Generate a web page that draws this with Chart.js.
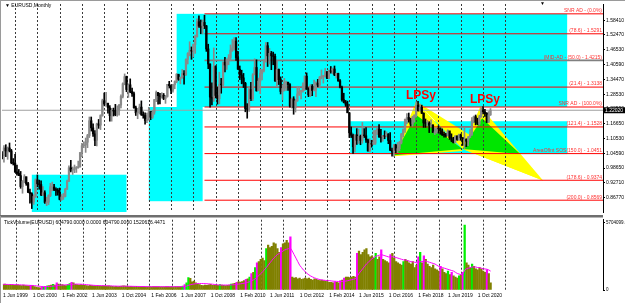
<!DOCTYPE html>
<html lang="en">
<head>
<meta charset="UTF-8">
<title>EURUSD,Monthly</title>
<script src="https://cdn.jsdelivr.net/npm/chart.js"></script>
<style>
  html, body { margin: 0; padding: 0; background: #fff; }
  #wrap { position: relative; width: 625px; height: 303px; overflow: hidden; }
  #priceBox { position: absolute; left: 0; top: 0; width: 625px; height: 216px; }
  #volBox { position: absolute; left: 0; top: 216px; width: 625px; height: 87px; }
</style>
</head>
<body>
<div id="wrap">
  <div id="priceBox"><canvas id="priceChart"></canvas></div>
  <div id="volBox"><canvas id="volumeChart"></canvas></div>
</div>
<script>
// EURUSD monthly, Jun 1999 .. May 2021 (month index: 0 = Jan 1999)
const firstMonth = 5;
const firstOpen = 1.0430;

const highs = [
  1.0530, 1.0770, 1.0810, 1.0720, 1.0880, 1.0620, 1.0250,
  1.0420, 0.9990, 0.9810, 0.9730, 0.9360, 0.9600, 0.9500, 0.9290, 0.9020, 0.8870, 0.8790, 0.9430,
  0.9590, 0.9380, 0.9350, 0.9120, 0.8950, 0.8690, 0.8790, 0.9250, 0.9300, 0.9210, 0.9070, 0.9040,
  0.9060, 0.8800, 0.8840, 0.9050, 0.9380, 0.9960, 1.0180, 0.9910, 0.9990, 0.9930, 1.0150, 1.0500,
  1.0870, 1.0930, 1.1080, 1.1230, 1.1930, 1.1930, 1.1650, 1.1380, 1.1680, 1.1830, 1.2020, 1.2650,
  1.2900, 1.2930, 1.2490, 1.2390, 1.2280, 1.2290, 1.2440, 1.2380, 1.2440, 1.2820, 1.3310, 1.3670,
  1.3580, 1.3270, 1.3470, 1.3100, 1.2940, 1.2370, 1.2280, 1.2450, 1.2580, 1.2140, 1.2100, 1.2090,
  1.2320, 1.2150, 1.2190, 1.2640, 1.2980, 1.2920, 1.2890, 1.2910, 1.2880, 1.2800, 1.3250, 1.3370,
  1.3220, 1.3250, 1.3390, 1.3680, 1.3630, 1.3540, 1.3850, 1.3800, 1.4280, 1.4530, 1.4970, 1.4760,
  1.4880, 1.5240, 1.5900, 1.6020, 1.5850, 1.5850, 1.6040, 1.5630, 1.4870, 1.4080, 1.3310, 1.4720,
  1.4000, 1.3140, 1.3740, 1.3490, 1.4150, 1.4340, 1.4280, 1.4450, 1.4840, 1.5060, 1.5140, 1.5140,
  1.4580, 1.3990, 1.3820, 1.3690, 1.3330, 1.2470, 1.3130, 1.3330, 1.3680, 1.4280, 1.4240, 1.3500,
  1.3860, 1.3860, 1.4250, 1.4940, 1.4940, 1.4700, 1.4580, 1.4550, 1.4470, 1.4210, 1.3870, 1.3550,
  1.3230, 1.3490, 1.3380, 1.3290, 1.3280, 1.2700, 1.2750, 1.2640, 1.3170, 1.3140, 1.3010, 1.3310,
  1.3590, 1.3710, 1.3110, 1.3240, 1.3240, 1.3420, 1.3350, 1.3450, 1.3570, 1.3830, 1.3610, 1.3890,
  1.3770, 1.3820, 1.3970, 1.3910, 1.3990, 1.3700, 1.3700, 1.3440, 1.3180, 1.2890, 1.2600, 1.2570,
  1.2100, 1.1530, 1.1240, 1.1210, 1.1460, 1.1440, 1.1200, 1.1710, 1.1460, 1.1500, 1.1040, 1.1050,
  1.0990, 1.1380, 1.1400, 1.1460, 1.1620, 1.1430, 1.1190, 1.1370, 1.1330, 1.1260, 1.1300, 1.0670,
  1.0830, 1.0830, 1.0900, 1.0950, 1.1270, 1.1450, 1.1850, 1.2070, 1.2090, 1.1880, 1.1960, 1.2020,
  1.2540, 1.2560, 1.2450, 1.2410, 1.2100, 1.1850, 1.1790, 1.1740, 1.1820, 1.1620, 1.1500, 1.1490,
  1.1570, 1.1490, 1.1450, 1.1320, 1.1270, 1.1410, 1.1290, 1.1250, 1.1110, 1.1180, 1.1180, 1.1240,
  1.1240, 1.1100, 1.1500, 1.1050, 1.1150, 1.1420, 1.1910, 1.1970, 1.2010, 1.1880, 1.2000, 1.2310,
  1.2350, 1.2240, 1.2110, 1.2150, 1.2270
];

const lows = [
  1.0235, 1.0100, 1.0330, 1.0220, 1.0520, 1.0040, 0.9990,
  0.9690, 0.9580, 0.9560, 0.9050, 0.8850, 0.9270, 0.9170, 0.8870, 0.8450, 0.8230, 0.8400, 0.8680,
  0.9110, 0.9010, 0.8750, 0.8750, 0.8440, 0.8350, 0.8390, 0.8710, 0.8950, 0.8950, 0.8760, 0.8770,
  0.8580, 0.8560, 0.8600, 0.8700, 0.9000, 0.9320, 0.9710, 0.9610, 0.9680, 0.9690, 0.9860, 0.9900,
  1.0330, 1.0690, 1.0500, 1.0690, 1.1100, 1.1360, 1.1150, 1.0770, 1.0760, 1.1470, 1.1420, 1.1960,
  1.2380, 1.2360, 1.2080, 1.1760, 1.1760, 1.1970, 1.1980, 1.1960, 1.2000, 1.2300, 1.2700, 1.3230,
  1.2950, 1.2720, 1.2910, 1.2760, 1.2290, 1.1990, 1.1860, 1.2050, 1.1990, 1.1880, 1.1640, 1.1700,
  1.1800, 1.1820, 1.1870, 1.2040, 1.2550, 1.2450, 1.2460, 1.2690, 1.2630, 1.2480, 1.2730, 1.3100,
  1.2870, 1.2930, 1.3070, 1.3310, 1.3410, 1.3270, 1.3490, 1.3260, 1.3610, 1.4070, 1.4400, 1.4260,
  1.4360, 1.4500, 1.5150, 1.5550, 1.5290, 1.5280, 1.5500, 1.4580, 1.3880, 1.2330, 1.2420, 1.2560,
  1.2700, 1.2450, 1.2460, 1.2890, 1.3160, 1.3750, 1.3850, 1.4040, 1.4200, 1.4580, 1.4630, 1.4210,
  1.3850, 1.3440, 1.3270, 1.3120, 1.2140, 1.1880, 1.2150, 1.2590, 1.2590, 1.3690, 1.2970, 1.3070,
  1.2870, 1.3430, 1.3750, 1.4150, 1.3970, 1.4070, 1.3840, 1.4040, 1.3370, 1.3140, 1.3240, 1.2860,
  1.2620, 1.2980, 1.3000, 1.3000, 1.2330, 1.2290, 1.2040, 1.2130, 1.2560, 1.2800, 1.2660, 1.2930,
  1.3000, 1.3040, 1.2750, 1.2750, 1.2790, 1.2980, 1.2750, 1.3150, 1.3100, 1.3470, 1.3300, 1.3540,
  1.3480, 1.3480, 1.3700, 1.3670, 1.3600, 1.3500, 1.3370, 1.3100, 1.2570, 1.2500, 1.2360, 1.2100,
  1.1100, 1.1100, 1.0460, 1.0520, 1.0820, 1.0860, 1.0810, 1.0870, 1.1100, 1.0900, 1.0550, 1.0520,
  1.0710, 1.0810, 1.0820, 1.1220, 1.1100, 1.0910, 1.0950, 1.1050, 1.1120, 1.0850, 1.0570, 1.0350,
  1.0340, 1.0490, 1.0490, 1.0570, 1.0840, 1.1120, 1.1310, 1.1660, 1.1720, 1.1570, 1.1560, 1.1720,
  1.1920, 1.2160, 1.2160, 1.2070, 1.1510, 1.1510, 1.1570, 1.1300, 1.1530, 1.1300, 1.1220, 1.1270,
  1.1290, 1.1230, 1.1180, 1.1110, 1.1110, 1.1160, 1.1020, 1.0930, 1.0880, 1.0880, 1.0980, 1.0980,
  1.0990, 1.0780, 1.0640, 1.0730, 1.0770, 1.1100, 1.1190, 1.1700, 1.1610, 1.1620, 1.1600, 1.1920,
  1.2050, 1.1950, 1.1700, 1.1700, 1.1990
];

const closes = [
  1.0370, 1.0680, 1.0560, 1.0680, 1.0560, 1.0080, 1.0070,
  0.9710, 0.9650, 0.9560, 0.9120, 0.9340, 0.9520, 0.9240, 0.8890, 0.8830, 0.8500, 0.8720, 0.9390,
  0.9230, 0.9200, 0.8790, 0.8870, 0.8480, 0.8490, 0.8760, 0.9110, 0.9110, 0.9000, 0.8970, 0.8890,
  0.8600, 0.8700, 0.8720, 0.9010, 0.9340, 0.9880, 0.9780, 0.9810, 0.9870, 0.9880, 0.9920, 1.0490,
  1.0770, 1.0800, 1.0910, 1.1180, 1.1780, 1.1490, 1.1250, 1.0990, 1.1650, 1.1600, 1.1990, 1.2590,
  1.2450, 1.2480, 1.2300, 1.1980, 1.2200, 1.2170, 1.2020, 1.2180, 1.2410, 1.2760, 1.3270, 1.3560,
  1.3040, 1.3230, 1.2960, 1.2870, 1.2300, 1.2100, 1.2130, 1.2330, 1.2030, 1.1990, 1.1790, 1.1840,
  1.2150, 1.1920, 1.2120, 1.2630, 1.2920, 1.2790, 1.2760, 1.2810, 1.2680, 1.2760, 1.3250, 1.3190,
  1.3010, 1.3230, 1.3360, 1.3660, 1.3450, 1.3540, 1.3690, 1.3630, 1.4260, 1.4490, 1.4620, 1.4590,
  1.4860, 1.5180, 1.5780, 1.5600, 1.5540, 1.5750, 1.5610, 1.4680, 1.4070, 1.2730, 1.2690, 1.3970,
  1.2800, 1.2670, 1.3250, 1.3240, 1.4150, 1.4030, 1.4250, 1.4330, 1.4630, 1.4720, 1.5000, 1.4330,
  1.3860, 1.3630, 1.3510, 1.3290, 1.2270, 1.2240, 1.3040, 1.2670, 1.3630, 1.3930, 1.2990, 1.3380,
  1.3690, 1.3810, 1.4160, 1.4810, 1.4400, 1.4500, 1.4400, 1.4380, 1.3390, 1.3850, 1.3440, 1.2960,
  1.3080, 1.3330, 1.3340, 1.3240, 1.2370, 1.2660, 1.2300, 1.2580, 1.2860, 1.2960, 1.2990, 1.3190,
  1.3580, 1.3060, 1.2820, 1.3170, 1.3000, 1.3010, 1.3300, 1.3220, 1.3530, 1.3580, 1.3590, 1.3760,
  1.3490, 1.3800, 1.3770, 1.3870, 1.3630, 1.3690, 1.3390, 1.3130, 1.2630, 1.2530, 1.2450, 1.2100,
  1.1290, 1.1190, 1.0730, 1.1210, 1.0990, 1.1150, 1.0980, 1.1210, 1.1170, 1.1000, 1.0560, 1.0860,
  1.0830, 1.0870, 1.1380, 1.1450, 1.1130, 1.1100, 1.1170, 1.1160, 1.1240, 1.0980, 1.0590, 1.0520,
  1.0800, 1.0580, 1.0650, 1.0900, 1.1240, 1.1420, 1.1840, 1.1910, 1.1810, 1.1640, 1.1900, 1.2000,
  1.2410, 1.2190, 1.2320, 1.2080, 1.1690, 1.1680, 1.1690, 1.1600, 1.1600, 1.1310, 1.1320, 1.1470,
  1.1450, 1.1370, 1.1220, 1.1210, 1.1170, 1.1370, 1.1080, 1.0990, 1.0900, 1.1150, 1.1020, 1.1210,
  1.1090, 1.1030, 1.1030, 1.0950, 1.1100, 1.1230, 1.1780, 1.1940, 1.1720, 1.1650, 1.1930, 1.2210,
  1.2140, 1.2070, 1.1730, 1.2020, 1.2202
];

// tick volume, thousands
const tickVolume = [
  480, 500, 460, 430, 470, 450, 400,
  420, 440, 400, 380, 420, 380, 360, 340, 400, 380, 300, 250,
  200, 180, 220, 250, 300, 350, 380, 420, 480, 420, 600, 500,
  420, 450, 400, 380, 450, 550, 650, 600, 480, 450, 420, 450,
  420, 400, 380, 360, 400, 380, 360, 350, 380, 360, 340, 360,
  340, 330, 350, 330, 320, 300, 310, 300, 320, 330, 350, 340,
  320, 300, 310, 290, 300, 310, 300, 280, 290, 280, 270, 260,
  280, 270, 280, 290, 300, 280, 270, 260, 270, 280, 290, 260,
  280, 270, 290, 280, 280, 290, 330, 450, 600, 1050, 980, 700,
  750, 600, 520, 450, 400, 380, 420, 400, 430, 480, 400, 420,
  420, 400, 450, 420, 400, 380, 390, 410, 500, 520, 560, 650,
  700, 680, 720, 800, 900, 950, 1100, 1400, 1500, 1900, 2300, 2400,
  2600, 2700, 2500, 3500, 3800, 3600, 3700, 4000, 3900, 3500, 3200, 3600,
  3900, 4000, 4200, 4000, 4500, 1100, 1000, 1050, 950, 1000, 900, 950,
  1000, 950, 1000, 900, 850, 950, 900, 850, 800, 850, 800, 750,
  700, 650, 650, 600, 700, 650, 600, 800, 850, 1000, 1100, 1100,
  1050, 1100, 1150, 1100, 3100, 3300, 3000, 3200, 3400, 3500, 3000, 2800,
  2900, 2700, 3100, 2600, 2800, 3400, 2600, 2500, 2400, 2300, 3000, 3100,
  2700, 2400, 2300, 2200, 2100, 2400, 2600, 2500, 2300, 2200, 2400, 1900,
  2100, 2800, 3200, 2300, 2900, 2600, 2200, 2000, 1900, 2100, 1800, 1700,
  1600, 2000, 1800, 1500, 1400, 1600, 1300, 1500, 1200, 1100, 1000, 1200,
  1300, 1500, 5500, 2300, 2100, 1900, 2200, 2000, 1800, 1700, 1900, 1800,
  1600, 1500, 1700, 1400, 600
];

// magenta average line of the volume window, thousands
const volumeMA = [
  480, 480, 475, 470, 465, 460, 455,
  450, 445, 440, 430, 425, 415, 405, 395, 390, 385, 370, 350,
  330, 310, 295, 290, 290, 295, 300, 310, 330, 345, 370, 390,
  405, 420, 430, 435, 445, 460, 480, 495, 500, 500, 495, 490,
  480, 470, 455, 440, 425, 410, 395, 385, 378, 372, 368, 365,
  360, 355, 350, 345, 340, 335, 330, 325, 322, 320, 322, 325,
  322, 318, 315, 310, 306, 303, 300, 297, 294, 290, 287, 284,
  282, 280, 280, 280, 281, 281, 280, 279, 278, 278, 279, 278,
  278, 278, 279, 280, 280, 281, 285, 300, 330, 390, 440, 480,
  510, 530, 545, 550, 550, 545, 540, 530, 520, 510, 490, 470,
  450, 430, 420, 420, 420, 420, 420, 420, 430, 440, 455, 475,
  500, 520, 545, 575, 610, 650, 700, 770, 850, 950, 1080, 1220,
  1380, 1550, 1700, 1900, 2100, 2300, 2500, 2700, 2850, 3000, 3100, 3200,
  3300, 3400, 3450, 3500, 3550, 3300, 3000, 2700, 2400, 2100, 1900, 1700,
  1550, 1400, 1280, 1180, 1100, 1030, 970, 920, 880, 850, 830, 810,
  800, 790, 770, 750, 740, 730, 720, 720, 725, 740, 760, 790,
  830, 870, 910, 950, 1150, 1400, 1600, 1800, 2000, 2200, 2350, 2500,
  2650, 2750, 2850, 2900, 2950, 3000, 2950, 2900, 2850, 2800, 2800, 2820,
  2800, 2750, 2700, 2650, 2600, 2550, 2550, 2500, 2450, 2400, 2380, 2350,
  2330, 2350, 2400, 2400, 2450, 2450, 2400, 2350, 2300, 2250, 2200, 2100,
  2000, 1950, 1900, 1850, 1800, 1750, 1700, 1650, 1600, 1500, 1400, 1350,
  1300, 1350, 1700, 1800, 1850, 1900, 1950, 1950, 1950, 1900, 1900, 1850,
  1800, 1780, 1760, 1700, 1600
];

const priceTicks = [1.58410, 1.52470, 1.46530, 1.40590, 1.34470, 1.28530, 1.22590,
                    1.16650, 1.10530, 1.04590, 0.98650, 0.92710, 0.86770];
const volumeTicks = [0, 5704099];
const volumeTickLabels = ['0', '5704099.0'];

const timeLabelMonths = [5, 21, 37, 53, 69, 85, 101, 117, 133, 149, 165, 181, 197, 213, 229, 245, 261];
const timeLabels = ['1 Jun 1999', '1 Oct 2000', '1 Feb 2002', '1 Jun 2003', '1 Oct 2004', '1 Feb 2006',
                    '1 Jun 2007', '1 Oct 2008', '1 Feb 2010', '1 Jun 2011', '1 Oct 2012', '1 Feb 2014',
                    '1 Jun 2015', '1 Oct 2016', '1 Feb 2018', '1 Jun 2019', '1 Oct 2020'];
const yearGridMonths = [12, 24, 36, 48, 60, 72, 84, 96, 108, 120, 132, 144, 156, 168, 180, 192,
                        204, 216, 228, 240, 252, 264, 276];

// fibo levels drawn from Jul 2008 to the right edge
const fibFrom = 114;
const fibLevels = [1.6097, 1.5291, 1.4215, 1.3138, 1.2333, 1.1528, 1.0451, 0.9374, 0.8569];
const fibTexts = ['SNR AD - (0.0%)', '(78.6) - 1.5291', '(MID-AD - (50.0) - 1.4215)', '(21.4) - 1.3138',
                  'SNR AD - (100.0%)', '(121.4) - 1.1528', 'AreaOfInt SOS(150.0) - 1.0451',
                  '(178.6) - 0.9374', '(200.0) - 0.8569'];

// cyan boxes (month index / price)
const boxFrom = [21, 84, 99, 192.5];
const boxTo = [72, 113, 309.3, 309.3];
const boxHigh = [0.9598, 1.2333, 1.6097, 1.1758];
const boxLow = [0.8000, 0.8528, 1.2333, 1.0430];

// triangles: [month, price] corners
const yellowTriangles = [
  [[216, 1.0340], [228, 1.2555], [253, 1.0560]],
  [[228, 1.2555], [296.3, 0.9360], [253, 1.0636]],
  [[253, 1.0636], [262.5, 1.2349], [296.3, 0.9360]]
];
const greenTriangles = [
  [[216, 1.0380], [228, 1.2015], [253, 1.0636]],
  [[253, 1.0636], [263.5, 1.1880], [284, 1.0430]]
];

const lpsyMonths = [230.6, 265];
const lpsyPrices = [1.2650, 1.2491];

const xMin = 4.95;
const xMax = 328.6;
const priceMin = 0.8092;
const priceMax = 1.6494;

// ---------------------------------------------------------------
const FONT = 'Liberation Sans, Arial, sans-serif';
const months = closes.map((c, i) => firstMonth + i);
const opens = closes.map((c, i) => i === 0 ? firstOpen : closes[i - 1]);
const isBull = closes.map((c, i) => c >= opens[i]);

const wickData = months.map((m, i) => ({ x: m, y: [lows[i], highs[i]] }));
const bodyData = months.map((m, i) => {
    let lo = Math.min(opens[i], closes[i]);
    let hi = Math.max(opens[i], closes[i]);
    if (hi - lo < 0.002) { lo -= 0.001; hi += 0.001; }
    return { x: m, y: [lo, hi] };
});
const candleColors = isBull.map(b => b ? '#8a8a8a' : '#000000');

const volColors = tickVolume.map((v, i) => {
    const prev = i === 0 ? v : tickVolume[i - 1];
    if (v > prev * 1.12) return isBull[i] ? '#00f000' : '#ff00ff';
    return '#808000';
});

function timeAxis(showLabels) {
    return {
        type: 'linear', min: xMin, max: xMax, offset: false,
        afterBuildTicks: s => {
            s.ticks = showLabels ? timeLabelMonths.map(v => ({ value: v })) : [];
        },
        afterFit: s => { s.height = showLabels ? 13 : 0; },
        grid: { display: true, drawOnChartArea: false, drawTicks: false, color: 'rgba(0,0,0,0)' },
        border: { display: false },
        ticks: {
            display: showLabels, autoSkip: false, maxRotation: 0, align: 'start', padding: 3,
            color: '#000', font: { family: FONT, size: 5 },
            callback: v => { const k = timeLabelMonths.indexOf(v); return k >= 0 ? timeLabels[k] : ''; }
        }
    };
}

// dotted yearly separators, drawn through the time scale
const yearGridPlugin = {
    id: 'yearGrid',
    beforeDatasetsDraw(chart) {
        const { ctx, chartArea: a, scales: { x } } = chart;
        ctx.save();
        ctx.strokeStyle = '#3a3a3a';
        ctx.lineWidth = 1;
        ctx.setLineDash([2, 2]);
        yearGridMonths.forEach(m => {
            const px = Math.round(x.getPixelForValue(m)) + 0.5;
            if (px < a.left || px > a.right) return;
            ctx.beginPath();
            ctx.moveTo(px, a.top);
            ctx.lineTo(px, a.bottom);
            ctx.stroke();
        });
        ctx.restore();
    }
};

// boxes and triangles under grid and candles
const shapesPlugin = {
    id: 'shapes',
    beforeDatasetsDraw(chart) {
        const { ctx, chartArea: a, scales: { x, y } } = chart;
        ctx.save();
        ctx.beginPath();
        ctx.rect(a.left, a.top, a.right - a.left, a.bottom - a.top);
        ctx.clip();
        ctx.fillStyle = '#00ffff';
        boxFrom.forEach((m0, i) => {
            const x0 = x.getPixelForValue(m0), x1 = x.getPixelForValue(boxTo[i]);
            const y0 = y.getPixelForValue(boxHigh[i]), y1 = y.getPixelForValue(boxLow[i]);
            ctx.fillRect(x0, y0, x1 - x0, y1 - y0);
        });
        const tri = (pts, color) => {
            ctx.fillStyle = color;
            ctx.beginPath();
            pts.forEach((p, k) => {
                const px = x.getPixelForValue(p[0]), py = y.getPixelForValue(p[1]);
                k ? ctx.lineTo(px, py) : ctx.moveTo(px, py);
            });
            ctx.closePath();
            ctx.fill();
        };
        yellowTriangles.forEach(t => tri(t, '#ffff00'));
        greenTriangles.forEach(t => tri(t, '#00e600'));
        ctx.restore();
    }
};

// texts and frame on top
const priceTextPlugin = {
    id: 'priceText',
    afterDraw(chart) {
        const { ctx, chartArea: a, scales: { x, y } } = chart;
        ctx.save();
        ctx.font = '5px ' + FONT;
        ctx.textAlign = 'right';
        ctx.textBaseline = 'bottom';
        ctx.fillStyle = '#ff3030';
        fibLevels.forEach((lvl, i) => {
            ctx.fillText(fibTexts[i], a.right - 1, y.getPixelForValue(lvl) - 0.5);
        });
        ctx.font = 'bold 12px ' + FONT;
        ctx.textAlign = 'center';
        ctx.textBaseline = 'alphabetic';
        ctx.fillStyle = '#ff0000';
        lpsyMonths.forEach((m, i) => ctx.fillText('LPSy', x.getPixelForValue(m), y.getPixelForValue(lpsyPrices[i])));
        ctx.fillStyle = '#000';
        ctx.font = '5px ' + FONT;
        ctx.textAlign = 'left';
        ctx.textBaseline = 'middle';
        ctx.fillText('\u25BC EURUSD,Monthly', 5, 6);
        ctx.fillText('\u25BC', 540, 4);
        const last = closes[closes.length - 1];
        const by = y.getPixelForValue(last);
        ctx.fillStyle = '#000';
        ctx.fillRect(a.right + 1, by - 3, 21, 6);
        ctx.fillStyle = '#fff';
        ctx.fillText(last.toFixed(5), a.right + 2, by + 0.5);
        ctx.fillStyle = '#9a9a9a';
        ctx.fillRect(0, 0, 625, 1);
        ctx.fillRect(0, 0, 1, 216);
        ctx.fillStyle = '#6e6e6e';
        ctx.fillRect(0, 215, a.right, 1);
        ctx.restore();
    }
};

const volTextPlugin = {
    id: 'volText',
    afterDraw(chart) {
        const { ctx, chartArea: a } = chart;
        ctx.save();
        ctx.fillStyle = '#6e6e6e';
        ctx.fillRect(0, 0, a.right, 1.5);
        ctx.fillStyle = '#9a9a9a';
        ctx.fillRect(0, 0, 1, 87);
        ctx.fillStyle = '#000';
        ctx.font = '5px ' + FONT;
        ctx.textBaseline = 'middle';
        ctx.fillText('TickVolume(EURUSD) 604790.0000 0.0000 604790.0000 1520616.4471', 4, 7);
        ctx.restore();
    }
};

const baseOptions = {
    responsive: true,
    maintainAspectRatio: false,
    animation: false,
    events: [],
    plugins: { legend: { display: false }, tooltip: { enabled: false } }
};

new Chart(document.getElementById('priceChart'), {
    type: 'bar',
    data: {
        datasets: [
            { type: 'bar', data: wickData, backgroundColor: candleColors, barThickness: 1, grouped: false, order: 1 },
            { type: 'bar', data: bodyData, backgroundColor: candleColors, barThickness: 1.6, grouped: false, order: 0 },
            ...fibLevels.map((lvl, i) => ({
                type: 'line',
                data: [{ x: fibFrom, y: lvl }, { x: xMax, y: lvl }],
                borderColor: i === 2 ? '#808080' : '#ff0000',
                borderWidth: i === 2 ? 1.6 : 1,
                pointRadius: 0, order: 5
            })),
            {
                type: 'line',
                data: [{ x: xMin, y: closes[closes.length - 1] }, { x: xMax, y: closes[closes.length - 1] }],
                borderColor: '#a0a0a0', borderWidth: 1, pointRadius: 0, order: 4
            }
        ]
    },
    options: {
        ...baseOptions,
        layout: { padding: { left: 2, top: 2, right: 0, bottom: 2 } },
        scales: {
            x: timeAxis(false),
            y: {
                type: 'linear', position: 'right', min: priceMin, max: priceMax,
                afterBuildTicks: s => { s.ticks = priceTicks.map(v => ({ value: v })); },
                afterFit: s => { s.width = 22; },
                grid: { drawOnChartArea: false, drawTicks: true, tickLength: 2, tickColor: '#000' },
                border: { display: true, color: '#000', width: 1 },
                ticks: { color: '#000', padding: 1, font: { family: FONT, size: 5 }, callback: v => v.toFixed(5) }
            }
        }
    },
    plugins: [shapesPlugin, yearGridPlugin, priceTextPlugin]
});

new Chart(document.getElementById('volumeChart'), {
    type: 'bar',
    data: {
        datasets: [
            {
                type: 'line',
                data: months.map((m, i) => ({ x: m, y: volumeMA[i] * 1000 })),
                borderColor: '#ff00ff', borderWidth: 1, pointRadius: 0, order: 0
            },
            {
                type: 'bar',
                data: months.map((m, i) => ({ x: m, y: tickVolume[i] * 1000 })),
                backgroundColor: volColors, barThickness: 1.6, grouped: false, order: 1
            }
        ]
    },
    options: {
        ...baseOptions,
        layout: { padding: { left: 2, top: 2, right: 0, bottom: 0 } },
        scales: {
            x: timeAxis(true),
            y: {
                type: 'linear', position: 'right', min: 0, max: 5954000,
                afterBuildTicks: s => { s.ticks = volumeTicks.map(v => ({ value: v })); },
                afterFit: s => { s.width = 22; },
                grid: { drawOnChartArea: false, drawTicks: true, tickLength: 2, tickColor: '#000' },
                border: { display: true, color: '#000', width: 1 },
                ticks: {
                    color: '#000', padding: 1, font: { family: FONT, size: 4.5 },
                    callback: v => volumeTickLabels[volumeTicks.indexOf(v)]
                }
            }
        }
    },
    plugins: [yearGridPlugin, volTextPlugin]
});
</script>
</body>
</html>
